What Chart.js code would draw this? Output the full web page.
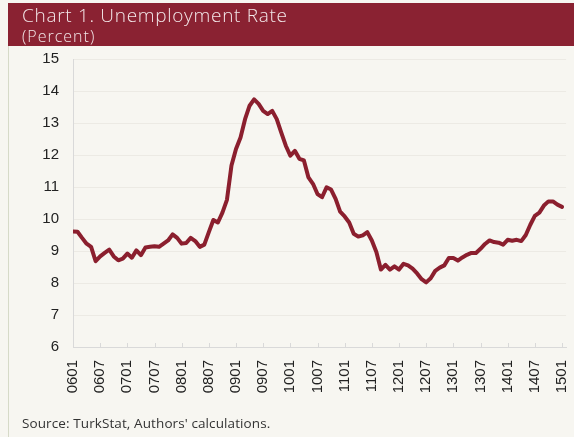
<!DOCTYPE html>
<html>
<head>
<meta charset="utf-8">
<script src="https://cdn.jsdelivr.net/npm/chart.js@4"></script>
<style>
  html, body { margin: 0; padding: 0; }
  body { width: 574px; height: 437px; background: #F7F6F1; position: relative; overflow: hidden; }
  #frame { position: absolute; left: 8px; top: 3px; width: 566px; height: 434px; border-left: 1px solid #D6DAC8; }
  #header { position: absolute; left: 8px; top: 3px; width: 566px; height: 43px; background: #8A2232; z-index: 2; }
  #title { position: absolute; left: 14px; top: -1px; font-family: "Open Sans", sans-serif; font-weight: 300; font-size: 19px; letter-spacing: 0.7px; color: #F3E7E9; white-space: nowrap; }
  #sub { position: absolute; left: 14px; top: 22px; font-family: "Open Sans", sans-serif; font-weight: 300; font-size: 16px; letter-spacing: 1px; color: #F3E7E9; }
  #source { position: absolute; left: 22px; top: 414px; font-family: "Open Sans", sans-serif; font-size: 13.5px; letter-spacing: 0.1px; color: #333; white-space: nowrap; }
  #wrap { position: absolute; left: 0; top: 36px; width: 593px; height: 401px; }
</style>
</head>
<body>
<div id="frame"></div>
<div id="header">
  <div id="title">Chart 1. Unemployment Rate</div>
  <div id="sub">(Percent)</div>
</div>
<div id="wrap"><canvas id="myChart"></canvas></div>
<div id="source">Source: TurkStat, Authors' calculations.</div>
<script>
// Tick labels on the time axis (yymm, every six months)
var tickLabels = ["0601", "0607", "0701", "0707", "0801", "0807", "0901", "0907", "1001", "1007",
                  "1101", "1107", "1201", "1207", "1301", "1307", "1401", "1407", "1501"];

// Unemployment rate, monthly from 2006-01 to 2015-01 (percent)
var rate = [
    9.61, 9.60, 9.41, 9.23, 9.13, 8.68, 8.83, 8.94, 9.04, 8.83, 8.71, 8.76,      // 2006
    8.92, 8.79, 9.02, 8.87, 9.11, 9.13, 9.15, 9.13, 9.23, 9.33, 9.52, 9.41,      // 2007
    9.23, 9.25, 9.41, 9.31, 9.13, 9.20, 9.59, 9.97, 9.89, 10.20, 10.60, 11.67,   // 2008
    12.19, 12.55, 13.12, 13.54, 13.74, 13.60, 13.38, 13.28, 13.38, 13.12, 12.70, 12.29, // 2009
    11.98, 12.13, 11.88, 11.83, 11.30, 11.10, 10.78, 10.68, 10.99, 10.92, 10.63, 10.23, // 2010
    10.08, 9.89, 9.54, 9.45, 9.49, 9.59, 9.33, 8.97, 8.42, 8.57, 8.42, 8.52,     // 2011
    8.42, 8.60, 8.55, 8.45, 8.30, 8.12, 8.02, 8.15, 8.38, 8.48, 8.55, 8.78,      // 2012
    8.78, 8.70, 8.80, 8.88, 8.94, 8.94, 9.07, 9.22, 9.33, 9.28, 9.26, 9.20,      // 2013
    9.35, 9.32, 9.35, 9.31, 9.50, 9.82, 10.10, 10.20, 10.42, 10.55, 10.55, 10.45, // 2014
    10.38                                                                         // 2015
];

// y axis range
var yMin = 6;
var yMax = 15;

var lineColor = "#8B1F2E";
var axisColor = "#D9D9D9";

// months are counted from 0601, one tick label every 6 months
var points = rate.map(function (v, i) { return { x: i, y: v } });

// small tick marks pointing up into the plot, like the original
var innerTicks = {
    id: "innerTicks",
    afterDraw: function (chart) {
        var ctx = chart.ctx;
        var xs = chart.scales.x;
        var bottom = chart.chartArea.bottom;
        ctx.save();
        ctx.strokeStyle = axisColor;
        ctx.lineWidth = 1;
        xs.ticks.forEach(function (t) {
            var px = Math.round(xs.getPixelForValue(t.value)) + 0.5;
            ctx.beginPath();
            ctx.moveTo(px, bottom);
            ctx.lineTo(px, bottom - 4);
            ctx.stroke();
        });
        ctx.restore();
    }
};

new Chart("myChart", {
    type: "line",
    data: {
        datasets: [{
            data: points,
            borderColor: lineColor,
            borderWidth: 4,
            pointRadius: 0,
            tension: 0,
            borderJoinStyle: "round",
            borderCapStyle: "round"
        }]
    },
    options: {
        responsive: true,
        maintainAspectRatio: false,
        animation: false,
        layout: { padding: { top: 2, right: 0, left: 0, bottom: 0 } },
        plugins: {
            legend: { display: false },
            tooltip: { enabled: false }
        },
        scales: {
            x: {
                type: "linear",
                min: 0,
                max: 108.9,
                afterBuildTicks: function (scale) {
                    scale.ticks = tickLabels.map(function (l, i) { return { value: i * 6 } });
                },
                afterFit: function (scale) { scale.height = 90 },
                grid: { drawOnChartArea: false, drawTicks: false, color: axisColor },
                border: { color: axisColor, width: 1 },
                ticks: {
                    autoSkip: false,
                    maxRotation: 90,
                    minRotation: 90,
                    padding: 13,
                    color: "#222",
                    font: { family: "Liberation Sans, Arial", size: 15 },
                    callback: function (v) { return tickLabels[v / 6] }
                }
            },
            y: {
                min: yMin,
                max: yMax,
                afterFit: function (scale) { scale.width = 73 },
                grid: { color: "#ECEAE4", drawTicks: false },
                border: { color: axisColor, width: 1 },
                ticks: {
                    stepSize: 1,
                    padding: 14,
                    color: "#222",
                    font: { family: "Liberation Sans, Arial", size: 15 }
                }
            }
        }
    },
    plugins: [innerTicks]
});
</script>
</body>
</html>
